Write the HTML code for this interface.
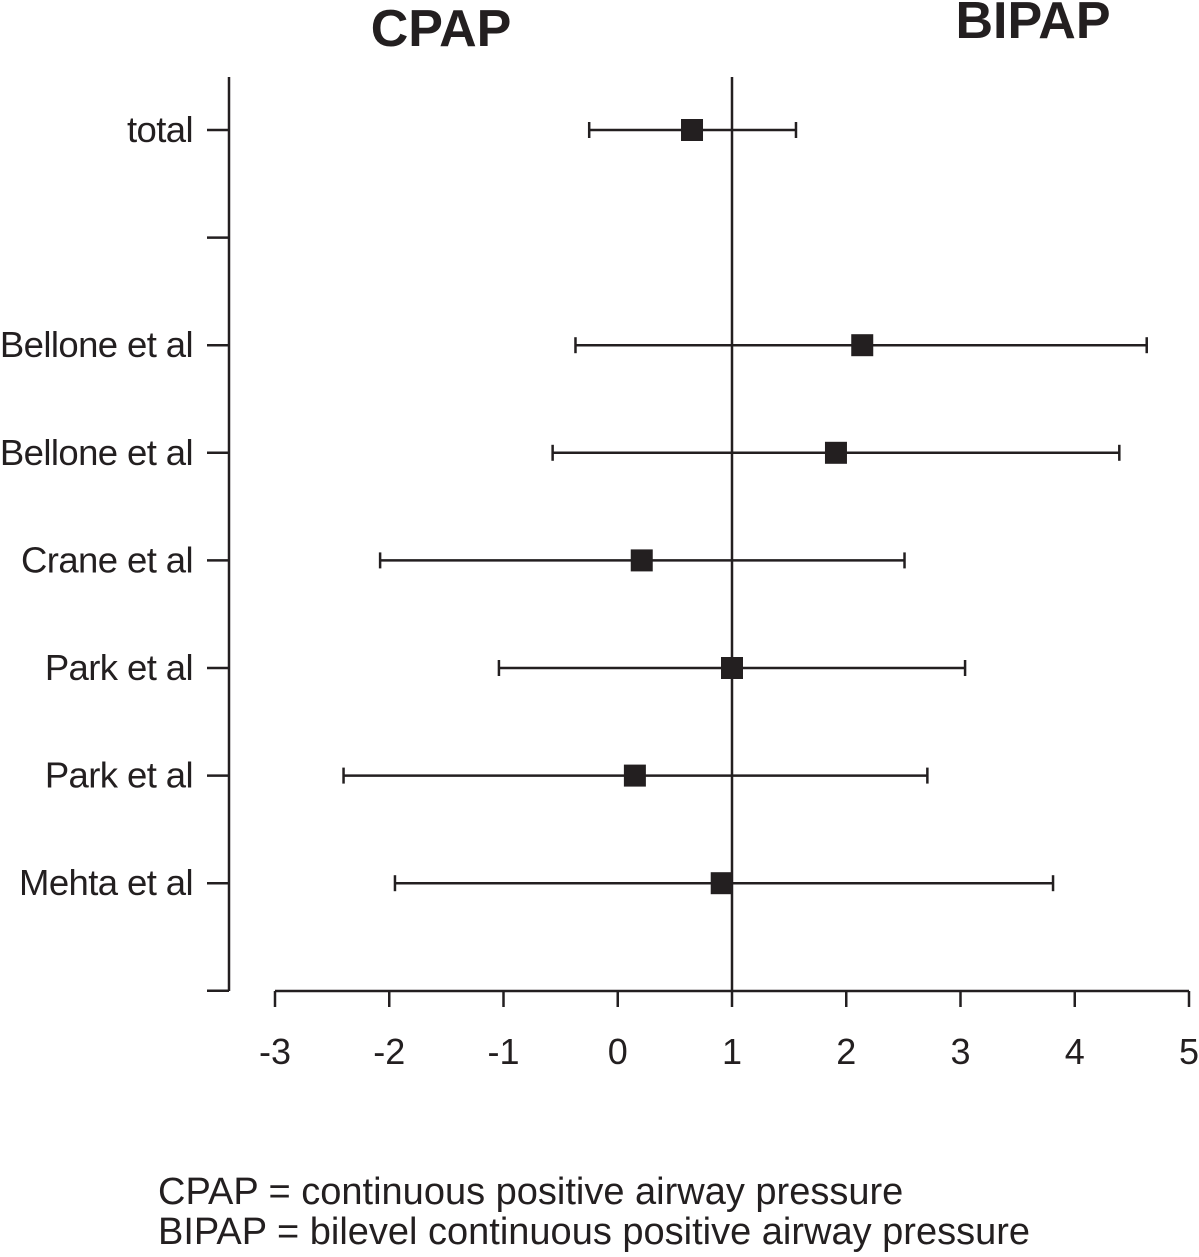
<!DOCTYPE html>
<html><head><meta charset="utf-8">
<style>
html,body{margin:0;padding:0;background:#fff;}
svg{display:block;font-family:"Liberation Sans",Arial,sans-serif;}
</style></head>
<body>
<svg id="chart" width="1199" height="1257" viewBox="0 0 1199 1257" xmlns="http://www.w3.org/2000/svg">
<text x="441" y="46" font-size="52" font-weight="bold" text-anchor="middle" fill="#231f20">CPAP</text>
<text x="1033" y="38" font-size="52" font-weight="bold" text-anchor="middle" fill="#231f20">BIPAP</text>
<g id="axes"></g>
<g id="marks"></g>
<text x="158" y="1204" font-size="38" fill="#231f20">CPAP = continuous positive airway pressure</text>
<text x="158" y="1244" font-size="38" fill="#231f20">BIPAP = bilevel continuous positive airway pressure</text>
</svg>
<script>
const studies = ["total", "", "Bellone et al", "Bellone et al", "Crane et al", "Park et al", "Park et al", "Mehta et al"];
const estimates = [0.65, null, 2.14, 1.91, 0.21, 1.0, 0.15, 0.91];
const lowerCI = [-0.25, null, -0.37, -0.57, -2.08, -1.04, -2.40, -1.95];
const upperCI = [1.56, null, 4.63, 4.39, 2.51, 3.04, 2.71, 3.81];
const xTicks = [-3, -2, -1, 0, 1, 2, 3, 4, 5];
const refValue = 1;

const NS = "http://www.w3.org/2000/svg";
const C = "#231f20";
const x = v => 275 + (v + 3) * 114.25;
const rowY = i => 130 + i * 107.6;
const axisX = 229, axisTop = 77, axisBottom = 991;

function mk(tag, attrs, parent) {
  const e = document.createElementNS(NS, tag);
  for (const k in attrs) e.setAttribute(k, attrs[k]);
  parent.appendChild(e);
  return e;
}
const axes = document.getElementById("axes");
const marks = document.getElementById("marks");

let e = mk("line", {x1: axisX, y1: axisTop, x2: axisX, y2: axisBottom, stroke: C, "stroke-width": 2.5}, axes);


e = mk("line", {x1: x(-3), y1: axisBottom, x2: x(5), y2: axisBottom, stroke: C, "stroke-width": 2.5}, axes);


e = mk("line", {x1: x(refValue), y1: axisTop, x2: x(refValue), y2: axisBottom, stroke: C, "stroke-width": 2.5}, axes);



for (let i = 0; i <= studies.length; i++) {
  const y = rowY(i);
  e = mk("line", {x1: 207, y1: y, x2: axisX, y2: y, stroke: C, "stroke-width": 2.5}, axes);
  
  
  if (i < studies.length && studies[i]) {
    e = mk("text", {x: 193, y: y + 12, "font-size": 36.5, "text-anchor": "end", fill: C, "letter-spacing": "-0.6"}, axes);
    e.textContent = studies[i];
    
    
  }
}
xTicks.forEach(t => {
  e = mk("line", {x1: x(t), y1: axisBottom, x2: x(t), y2: axisBottom + 16, stroke: C, "stroke-width": 2.5}, axes);
  
  
  e = mk("text", {x: x(t), y: 1064, "font-size": 36, "text-anchor": "middle", fill: C}, axes);
  e.textContent = String(t);
  
  
});

studies.forEach((s, i) => {
  if (estimates[i] === null) return;
  const y = rowY(i);
  const g = mk("g", {}, marks);
  
  
  mk("line", {x1: x(lowerCI[i]), y1: y, x2: x(upperCI[i]), y2: y, stroke: C, "stroke-width": 2.5}, g);
  mk("line", {x1: x(lowerCI[i]), y1: y - 8, x2: x(lowerCI[i]), y2: y + 8, stroke: C, "stroke-width": 2.5}, g);
  mk("line", {x1: x(upperCI[i]), y1: y - 8, x2: x(upperCI[i]), y2: y + 8, stroke: C, "stroke-width": 2.5}, g);
  e = mk("rect", {x: x(estimates[i]) - 11, y: y - 11, width: 22, height: 22, fill: C}, g);
  
  
});
</script>
</body></html>
